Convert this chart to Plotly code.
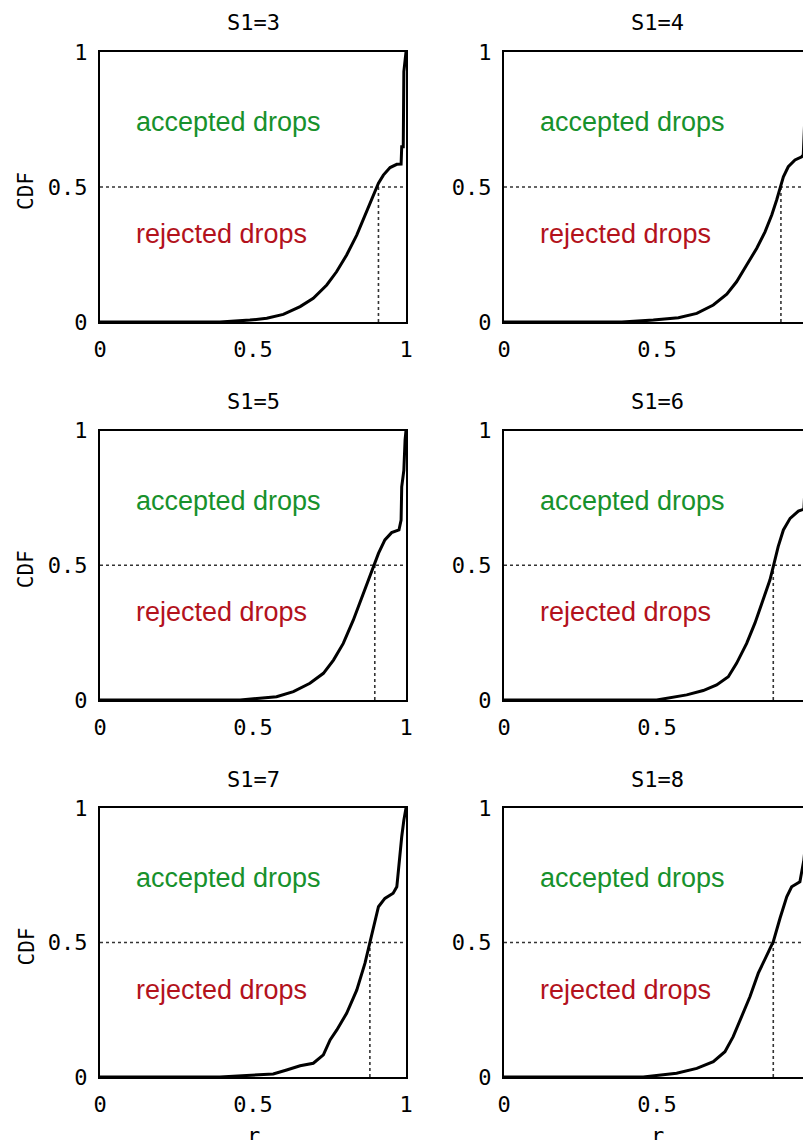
import plotly.graph_objects as go

# page is 811x1140; the html body has an 8px margin, so the figure is 803x1132
OFF = 8
W, H = 811 - OFF, 1140 - OFF

# ---------------- data ----------------
panel_titles = ["S1=3", "S1=4", "S1=5", "S1=6", "S1=7", "S1=8"]

r_s3 = [0.0, 0.392, 0.490, 0.545, 0.599, 0.654, 0.697, 0.741, 0.773, 0.806, 0.839, 0.871,
        0.893, 0.910, 0.926, 0.948, 0.970, 0.984, 0.986, 0.991, 0.993, 0.997, 1.0]
cdf_s3 = [0.0, 0.0, 0.007, 0.014, 0.028, 0.057, 0.088, 0.137, 0.186, 0.248, 0.322, 0.409,
          0.470, 0.514, 0.544, 0.572, 0.584, 0.585, 0.649, 0.649, 0.927, 0.989, 1.0]

r_s4 = [0.0, 0.385, 0.488, 0.570, 0.630, 0.684, 0.728, 0.760, 0.793, 0.826, 0.853, 0.875,
        0.891, 0.902, 0.913, 0.929, 0.951, 0.973, 0.978, 0.984, 0.989, 0.994, 1.0]
cdf_s4 = [0.0, 0.0, 0.007, 0.016, 0.032, 0.063, 0.103, 0.149, 0.211, 0.273, 0.334, 0.396,
          0.452, 0.495, 0.538, 0.575, 0.600, 0.612, 0.619, 0.779, 0.952, 0.989, 1.0]

r_s5 = [0.0, 0.458, 0.577, 0.632, 0.686, 0.730, 0.763, 0.795, 0.828, 0.861, 0.882, 0.893,
        0.910, 0.931, 0.953, 0.977, 0.984, 0.986, 0.993, 0.997, 1.0]
cdf_s5 = [0.0, 0.0, 0.012, 0.031, 0.062, 0.099, 0.148, 0.210, 0.297, 0.396, 0.458, 0.495,
          0.544, 0.594, 0.621, 0.631, 0.668, 0.791, 0.853, 0.965, 1.0]

r_s6 = [0.0, 0.499, 0.597, 0.651, 0.695, 0.733, 0.760, 0.793, 0.820, 0.847, 0.869, 0.880,
        0.896, 0.913, 0.935, 0.962, 0.980, 0.985, 0.989, 0.994, 1.0]
cdf_s6 = [0.0, 0.0, 0.019, 0.035, 0.056, 0.086, 0.136, 0.210, 0.285, 0.371, 0.445, 0.495,
          0.569, 0.631, 0.674, 0.701, 0.708, 0.816, 0.829, 0.915, 1.0]

r_s7 = [0.0, 0.392, 0.479, 0.566, 0.610, 0.654, 0.697, 0.730, 0.752, 0.774, 0.806, 0.839,
        0.866, 0.882, 0.893, 0.910, 0.931, 0.958, 0.970, 0.978, 0.986, 0.993, 1.0]
cdf_s7 = [0.0, 0.0, 0.006, 0.011, 0.026, 0.042, 0.051, 0.082, 0.138, 0.175, 0.237, 0.323,
          0.423, 0.497, 0.559, 0.633, 0.664, 0.683, 0.707, 0.807, 0.893, 0.955, 1.0]

r_s8 = [0.0, 0.455, 0.564, 0.630, 0.684, 0.722, 0.749, 0.777, 0.804, 0.831, 0.858, 0.880,
        0.902, 0.924, 0.940, 0.967, 0.980, 0.989, 1.0]
cdf_s8 = [0.0, 0.0, 0.014, 0.032, 0.057, 0.094, 0.150, 0.224, 0.299, 0.386, 0.454, 0.503,
          0.590, 0.670, 0.707, 0.726, 0.807, 0.906, 1.0]

r_series = [r_s3, r_s4, r_s5, r_s6, r_s7, r_s8]
cdf_series = [cdf_s3, cdf_s4, cdf_s5, cdf_s6, cdf_s7, cdf_s8]

medians = [0.91, 0.905, 0.898, 0.88, 0.882, 0.88]
threshold = 0.5

tick_vals = [0, 0.5, 1]
tick_text = ["0", "0.5", "1"]

x_title = "r"
y_title = "CDF"
upper_label = "accepted drops"
lower_label = "rejected drops"

# ---------------- layout (page pixels, converted to figure pixels) ----------------
col_px = [(100, 406), (504, 810)]
row_px = [(52, 322), (430.5, 700), (808, 1077)]

MONO = "DejaVu Sans Mono, monospace"
SANS = "Liberation Sans, Arial, sans-serif"
GREEN = "#17912c"
RED = "#b3121c"


def px(v):
    return (v - OFF) / W


def py(v):
    return 1 - (v - OFF) / H


fig = go.Figure()
annotations = []

for i in range(6):
    row, col = divmod(i, 2)
    x0, x1 = col_px[col]
    y0, y1 = row_px[row]
    xa = "x" if i == 0 else f"x{i+1}"
    ya = "y" if i == 0 else f"y{i+1}"
    xkey = "xaxis" if i == 0 else f"xaxis{i+1}"
    ykey = "yaxis" if i == 0 else f"yaxis{i+1}"

    # dotted guide lines
    fig.add_trace(go.Scatter(x=[0, 1], y=[threshold, threshold], mode="lines",
                             line=dict(color="#333333", width=1.6, dash="dot"),
                             xaxis=xa, yaxis=ya, showlegend=False, hoverinfo="skip"))
    fig.add_trace(go.Scatter(x=[medians[i], medians[i]], y=[0, threshold], mode="lines",
                             line=dict(color="#333333", width=1.6, dash="dot"),
                             xaxis=xa, yaxis=ya, showlegend=False, hoverinfo="skip"))
    # CDF curve
    fig.add_trace(go.Scatter(x=r_series[i], y=cdf_series[i], mode="lines",
                             line=dict(color="black", width=3),
                             xaxis=xa, yaxis=ya, showlegend=False))

    common = dict(range=[0, 1], showgrid=False, zeroline=False, showline=True,
                  linecolor="black", linewidth=2.2, mirror=True, ticks="",
                  tickvals=tick_vals, ticktext=tick_text, automargin=False,
                  tickfont=dict(family=MONO, size=22, color="black"),
                  ticklabeloverflow="allow", fixedrange=True)
    fig.layout[xkey] = dict(domain=[px(x0), px(x1)], anchor=ya,
                            ticklabelstandoff=6, **common)
    fig.layout[ykey] = dict(domain=[py(y1), py(y0)], anchor=xa,
                            ticklabelstandoff=6, **common)

    # panel title
    annotations.append(dict(text=panel_titles[i], xref="paper", yref="paper",
                            x=px((x0 + x1) / 2), y=py(y0 - 29),
                            xanchor="center", yanchor="middle", showarrow=False,
                            font=dict(family=MONO, size=22, color="black")))
    # region labels
    annotations.append(dict(text=upper_label, xref=xa, yref=ya, x=0.112, y=0.74,
                            xanchor="left", yanchor="middle", showarrow=False,
                            font=dict(family=SANS, size=27, color=GREEN)))
    annotations.append(dict(text=lower_label, xref=xa, yref=ya, x=0.112, y=0.325,
                            xanchor="left", yanchor="middle", showarrow=False,
                            font=dict(family=SANS, size=27, color=RED)))
    # y-axis title on left column
    if col == 0:
        yc = y0 + (y1 - y0) * 0.5 + 4
        annotations.append(dict(text=y_title, xref="paper", yref="paper",
                                x=px(26), y=py(yc), textangle=-90,
                                xanchor="center", yanchor="middle", showarrow=False,
                                font=dict(family=MONO, size=21, color="black")))
    # x-axis title on bottom row
    if row == 2:
        annotations.append(dict(text=x_title, xref="paper", yref="paper",
                                x=px((x0 + x1) / 2), y=py(1121),
                                xanchor="center", yanchor="top", showarrow=False,
                                font=dict(family=MONO, size=22, color="black")))

fig.update_layout(width=W, height=H, margin=dict(l=0, r=0, t=0, b=0),
                  template="none", paper_bgcolor="white", plot_bgcolor="white",
                  showlegend=False, annotations=annotations)

fig.write_html("out.html")
